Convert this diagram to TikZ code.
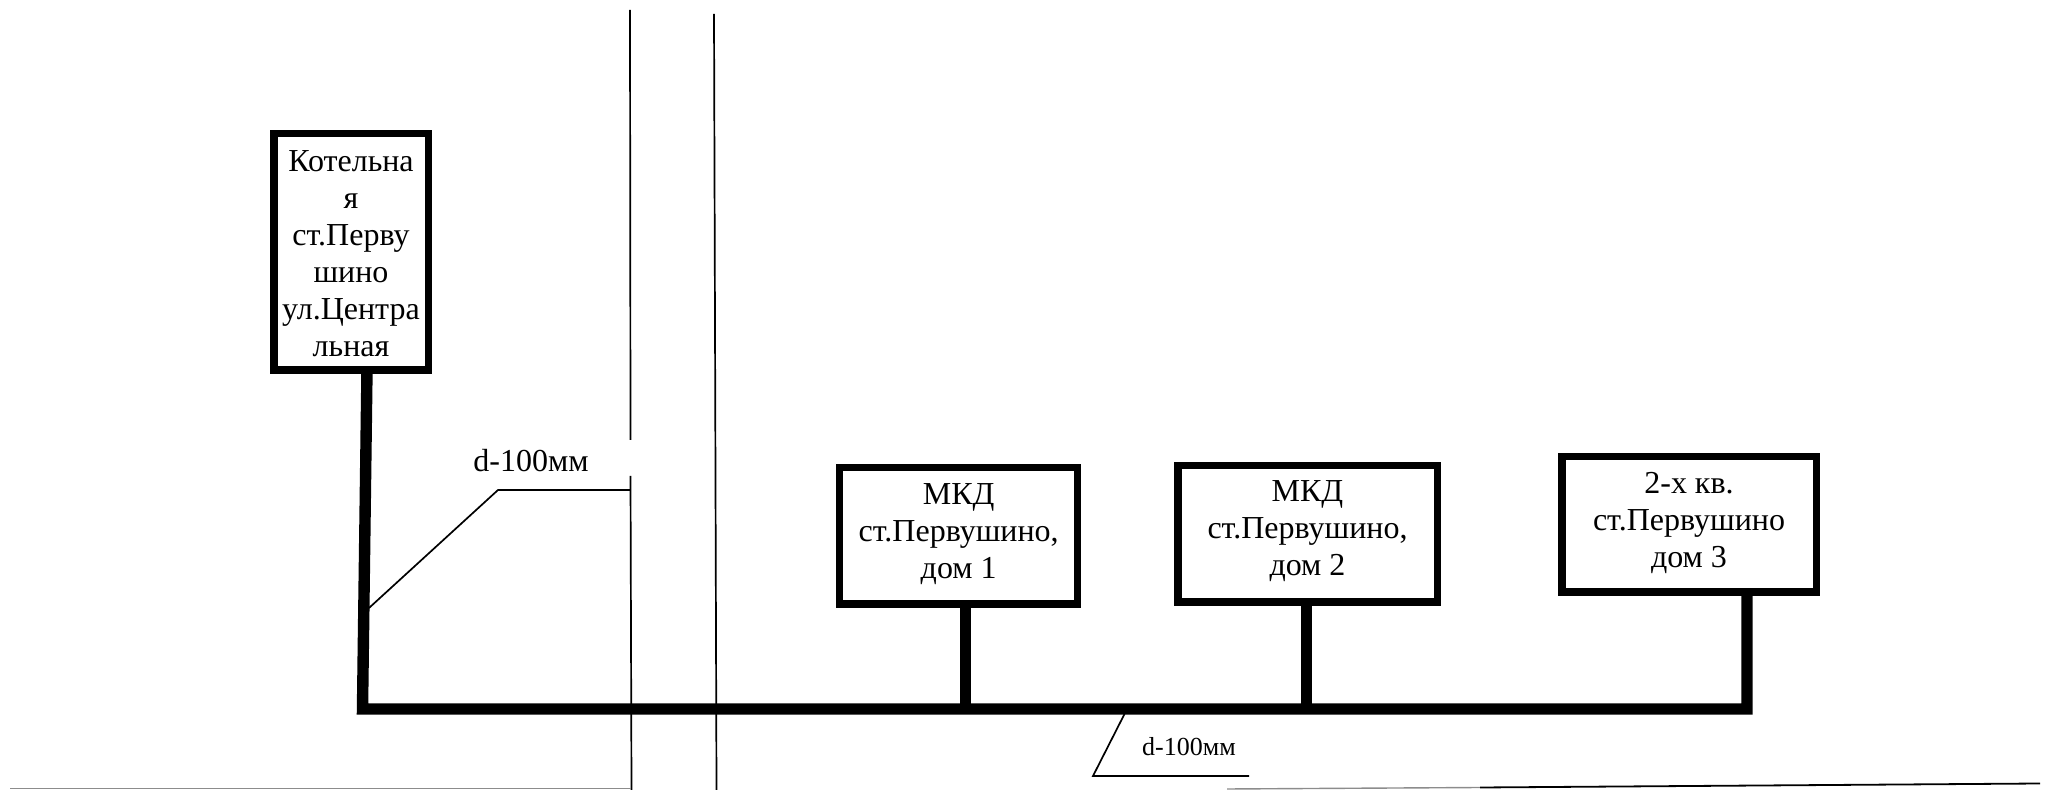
\documentclass[tikz,border=0pt]{standalone}
\usepackage{fontspec}
\setmainfont{Liberation Serif}
\newcommand{\topgap}[1]{\rule{0pt}{#1pt}}
\newcommand{\botgap}[1]{\rule[-#1pt]{0pt}{#1pt}}
\tikzset{
  bldg/.style={draw=black,line width=3.75pt,fill=white,rectangle,inner sep=0pt,align=center,
    font=\fontsize{16pt}{18.5pt}\selectfont},
  pipe/.style={draw=black,line width=5.7pt,line join=miter},
  riser/.style={draw=black,line width=5.5pt},
  thin line/.style={draw=black,line width=0.85pt},
  ground/.style={draw=black!45,line width=0.7pt},
  lbl/.style={inner sep=0pt,anchor=base,font=\fontsize{16pt}{18.5pt}\selectfont},
  lblsmall/.style={inner sep=0pt,anchor=base,font=\fontsize{13pt}{15pt}\selectfont},
}
\begin{document}
\begin{tikzpicture}[x=0.5pt,y=-0.5pt]
\useasboundingbox (0,0) rectangle (2053,790);
% coordinates
\coordinate (aTop) at (630,10);
\coordinate (aGap1) at (630.5,440);
\coordinate (aGap2) at (630.5,476);
\coordinate (aBot) at (631.5,790);
\coordinate (bTop) at (714,14);
\coordinate (bBot) at (716.5,790);
\coordinate (gL) at (10,788.5);
\coordinate (gR) at (631,788.5);
\coordinate (hL) at (1227,789);
\coordinate (hM) at (1480,787.5);
\coordinate (hR) at (2040,783.5);
\coordinate (cnA) at (362.5,709);
\coordinate (cnB) at (1747,709);
\coordinate (j1) at (965,709);
\coordinate (j2) at (1306.5,709);
\coordinate (lead1a) at (369,608);
\coordinate (lead1b) at (498,490);
\coordinate (lead2a) at (1124.5,714);
\coordinate (lead2b) at (1093,776);
\coordinate (lead2c) at (1249,776);
% background lines
\draw[thin line] (aTop) -- (aGap1);
\draw[thin line] (aGap2) -- (aBot);
\draw[thin line] (bTop) -- (bBot);
\draw[ground] (gL) -- (gR);
\draw[ground] (hL) -- (hM);
\draw[draw=black,line width=0.9pt] (hM) -- (hR);
% pipes
\coordinate (bOut) at (367,370);
\draw[pipe] (bOut) -- (cnA) -- (cnB) -- ++(0,-120);
\draw[riser] (j2) -- (1306.5,600);
% buildings
\node[bldg,minimum width=77.25pt,minimum height=118.25pt] (boiler) at (351,252)
  {\topgap{18}Котельна\\я\\ст.Перву\\шино\\ул.Центра\\льная\botgap{6}};
\node[bldg,minimum width=119pt,minimum height=68.25pt] (mkd1) at (958.7,536)
  {\topgap{12}МКД\\ст.Первушино,\\дом 1\botgap{6.5}};
\node[bldg,minimum width=129.75pt,minimum height=68.25pt] (mkd2) at (1307.5,534)
  {\topgap{11}МКД\\ст.Первушино,\\дом 2\botgap{6.5}};
\node[bldg,minimum width=127.25pt,minimum height=67.75pt] (house3) at (1689,524.5)
  {\topgap{13}2-х кв.\\ст.Первушино\\дом 3\botgap{6.5}};
% stub overlaps the lower edge of the first house
\draw[riser] (j1) -- (965,600);
% leaders
\draw[thin line] (lead1a) -- (lead1b) -- (lead1b -| aGap2);
\draw[thin line] (lead2a) -- (lead2b) -- (lead2c);
\node[lbl] (lab1) at (531,472) {d-100мм};
\node[lblsmall] (lab2) at (1189,756) {d-100мм};
\end{tikzpicture}
\end{document}
